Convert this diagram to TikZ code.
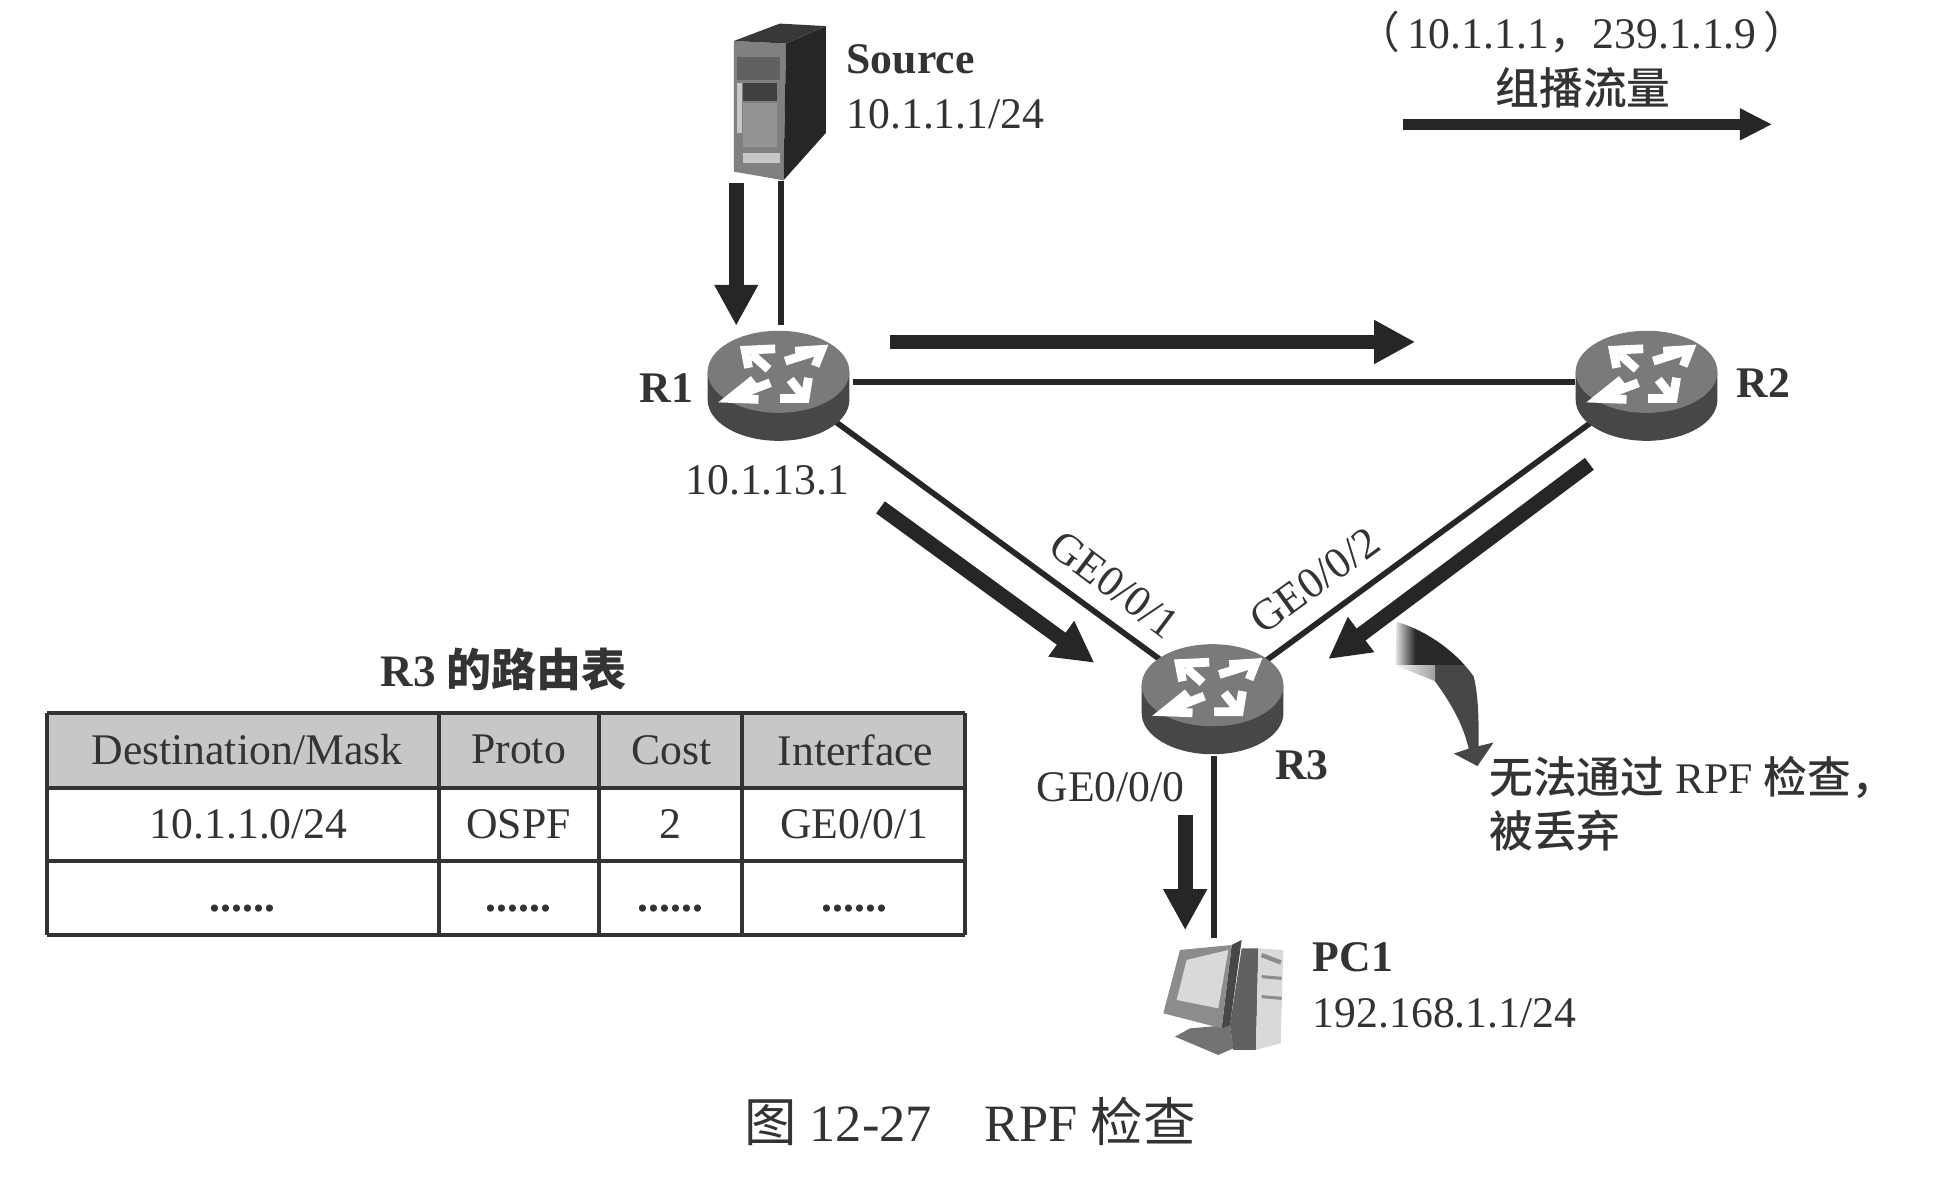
\documentclass[tikz,border=0pt]{standalone}
\usepackage{fontspec}
\setmainfont{Liberation Serif}
\newfontfamily\cjk{Noto Sans CJK SC}
\newfontfamily\cjkmid{Noto Sans CJK SC Medium}
\usetikzlibrary{arrows.meta}
\usetikzlibrary{shapes.geometric}

\definecolor{inkgray}{gray}{0.2}
\definecolor{headgray}{gray}{0.78}

\tikzset{
  every node/.style={inner sep=0pt, text=inkgray, font=\fontsize{10}{12}\selectfont},
  link/.style={line width=1.3pt, draw=black!85},
  flow/.style={-{Triangle[width=3.3mm, length=3.3mm]}, line width=3.4pt, draw=black!85},
  flowsmall/.style={-{Triangle[width=2.4mm, length=2.6mm]}, line width=2.6pt, draw=black!85},
  routerbox/.style={ellipse, minimum width=1.14cm, minimum height=0.9cm},
  gridline/.style={line width=0.9pt, draw=black!80},
  router/.pic={
    \fill[black!72] (-0.57,0.11) -- (-0.57,-0.115) arc (180:360:0.57 and 0.33) -- (0.57,0.11) -- cycle;
    \fill[black!52] (0,0.11) ellipse (0.57 and 0.33);
    \draw[white, line width=2pt] (-0.08,0.13) -- (-0.214,0.25) (-0.027,0.295) -- (-0.268,0.284) -- (-0.241,0.142);
    \draw[white, line width=2pt] (0.054,0.196) -- (0.308,0.276) (0.134,0.276) -- (0.348,0.29) -- (0.295,0.156);
    \draw[white, line width=2pt] (-0.067,0.022) -- (-0.348,-0.086) (-0.2,0.048) -- (-0.389,-0.104) -- (-0.161,-0.112);
    \draw[white, line width=2pt] (0.094,0.048) -- (0.188,-0.072) (0.013,-0.104) -- (0.214,-0.104) -- (0.241,0.062);
  }
}

\begin{document}
\begin{tikzpicture}
\useasboundingbox (0,-0.005) rectangle (15.68,9.5);

% devices
\node (src) at (6.28, 8.685) [minimum width=0.74cm, minimum height=1.27cm] {};
\node (r1) at (6.28, 6.43) [routerbox] {};
\node (r2) at (13.24, 6.43) [routerbox] {};
\node (r3) at (9.76, 3.88) [routerbox] {};
\node (pc1) at (9.76, 1.5) [minimum width=0.97cm, minimum height=0.9cm] {};

\draw[link] (src) -- (r1);
\draw[link] (r1) -- (r2);
\draw[link] (r1) -- (r3);
\draw[link] (r2) -- (r3);
\draw[link] (r3) -- (pc1);

\pic at (6.26, 6.4) {router};
\pic at (13.24, 6.4) {router};
\pic at (9.75, 3.88) {router};

% source server
\begin{scope}[shift={(6.27, 8.685)}]
\fill[black!50] (-0.37,0.485) -- (0.05,0.465) -- (0.03,-0.635) -- (-0.37,-0.565) -- cycle;
\fill[black!85] (0.03,-0.635) -- (0.05,0.465) -- (0.37,0.605) -- (0.37,-0.255) -- cycle;
\fill[black!78] (-0.37,0.485) -- (0,0.625) -- (0.37,0.605) -- (0.05,0.465) -- cycle;
\fill[black!62] (-0.346,0.359) rectangle (0,0.172);
\fill[black!22] (-0.346,0.145) rectangle (-0.306,-0.257);
\fill[black!75] (-0.293,0.145) rectangle (-0.025,0);
\fill[black!42] (-0.293,-0.011) rectangle (-0.025,-0.364);
\fill[black!22] (-0.293,-0.418) rectangle (0,-0.498);
\end{scope}

% pc
\fill[black!55] (9.448,1.164) -- (9.569,1.231) -- (9.89,1.258) -- (9.917,1.07) -- (9.796,1.017) -- cycle;
\fill[black!62] (9.984,1.874) -- (10.118,1.874) -- (10.099,1.057) -- (9.917,1.057) -- (9.89,1.258) -- cycle;
\fill[black!15] (10.118,1.874) -- (10.319,1.861) -- (10.298,1.111) -- (10.099,1.057) -- cycle;
\draw[black!45, line width=1pt] (10.145,1.82) -- (10.3,1.76);
\draw[black!45, line width=0.7pt] (10.145,1.647) -- (10.305,1.633);
\draw[black!45, line width=0.7pt] (10.145,1.486) -- (10.305,1.472);
\fill[black!72] (9.904,1.901) -- (9.984,1.941) -- (9.89,1.258) -- (9.823,1.231) -- cycle;
\fill[black!45] (9.488,1.861) -- (9.904,1.901) -- (9.823,1.231) -- (9.354,1.352) -- cycle;
\fill[black!15] (9.542,1.781) -- (9.877,1.861) -- (9.796,1.392) -- (9.461,1.459) -- cycle;

% flow arrows
\coordinate (fa) at (11.28, 8.5);
\coordinate (fb) at (14.25, 8.5);
\coordinate (fc) at (5.92, 8.03);
\coordinate (fd) at (5.92, 6.88);
\coordinate (fe) at (7.16, 6.75);
\coordinate (ff) at (11.38, 6.75);
\coordinate (fg) at (7.08, 5.42);
\coordinate (fh) at (8.8, 4.17);
\coordinate (fi) at (12.78, 5.77);
\coordinate (fj) at (10.68, 4.2);
\coordinate (fk) at (9.53, 2.95);
\coordinate (fl) at (9.53, 2.02);

\draw[flowsmall] (fa) -- (fb);
\draw[flow] (fc) -- (fd);
\draw[flow] (fe) -- (ff);
\draw[flow] (fg) -- (fh);
\draw[flow] (fi) -- (fj);
\draw[flow] (fk) -- (fl);

% drop mark
\begin{scope}
\clip (11.23,4.5) .. controls (11.47,4.43) and (11.71,4.26) .. (11.85,4.06)
  .. controls (11.89,3.9) and (11.89,3.7) .. (11.89,3.5)
  -- (12.01,3.53) -- (11.88,3.34) -- (11.69,3.44) -- (11.81,3.48)
  .. controls (11.78,3.6) and (11.73,3.76) .. (11.54,4.02)
  .. controls (11.46,4.06) and (11.36,4.09) .. (11.22,4.15) -- cycle;
\fill[black!72] (11.54,3.3) rectangle (12.1,4.155);
\shade[left color=white, right color=black!38] (11.2,3.95) rectangle (11.54,4.155);
\shade[left color=white, right color=black!84] (11.2,4.153) rectangle (11.38,4.6);
\fill[black!84] (11.38,4.153) rectangle (12.1,4.6);
\end{scope}

% labels
\node (srcname) at (6.8, 9.02) [anchor=west] {\bfseries Source};
\node (srcip) at (6.8, 8.58) [anchor=west] {10.1.1.1/24};
\node (flowname) at (12.72, 9.24) [] {{\cjk （}\kern1.5pt 10.1.1.1{\cjk ，}239.1.1.9\kern1.5pt{\cjk ）}};
\node (flowtype) at (12.73, 8.79) [] {\cjkmid 组播流量};
\node (r1name) at (5.36, 6.38) [] {\bfseries R1};
\node (r1ip) at (6.17, 5.64) [] {10.1.13.1};
\node (r2name) at (14.18, 6.42) [] {\bfseries R2};
\node (r3name) at (10.47, 3.35) [] {\bfseries R3};
\node (ge1) at (8.96, 4.8) [rotate=-37] {GE0/0/1};
\node (ge2) at (10.57, 4.83) [rotate=36] {GE0/0/2};
\node (ge0) at (8.93, 3.17) [] {GE0/0/0};
\node (dropa) at (11.97, 3.25) [anchor=west] {{\cjkmid 无法通过} RPF {\cjkmid 检查，}};
\node (dropb) at (11.97, 2.82) [anchor=west] {\cjkmid 被丢弃};
\node (pcname) at (10.55, 1.8) [anchor=west] {\bfseries PC1};
\node (pcip) at (10.55, 1.35) [anchor=west] {192.168.1.1/24};

% routing table
\node (tabname) at (4.05, 4.12) [font=\fontsize{10.3}{12}\selectfont] {\bfseries R3 {\cjk 的路由表}};
\fill[headgray] (0.38,3.77) rectangle (7.76,3.16);
\foreach \y in {3.77, 3.16, 2.58, 1.98} {
  \draw[gridline] (0.38,\y) -- (7.76,\y);
}
\foreach \x in {0.38, 3.53, 4.82, 5.97, 7.76} {
  \draw[gridline] (\x,3.77) -- (\x,1.98);
}
\node (h1) at (1.985, 3.47) [] {Destination/Mask};
\node (h2) at (4.17, 3.47) [] {Proto};
\node (h3) at (5.4, 3.47) [] {Cost};
\node (h4) at (6.88, 3.47) [] {Interface};
\node (c1) at (2, 2.87) [] {10.1.1.0/24};
\node (c2) at (4.17, 2.87) [] {OSPF};
\node (c3) at (5.39, 2.87) [] {2};
\node (c4) at (6.87, 2.87) [] {GE0/0/1};
\node (d1) at (1.95, 2.19) [] {\bfseries ......};
\node (d2) at (4.17, 2.19) [] {\bfseries ......};
\node (d3) at (5.39, 2.19) [] {\bfseries ......};
\node (d4) at (6.87, 2.19) [] {\bfseries ......};

\node (caption) at (7.8, 0.48) [font=\fontsize{12}{14}\selectfont] {{\cjk 图} 12-27\quad RPF {\cjk 检查}};
\end{tikzpicture}
\end{document}
